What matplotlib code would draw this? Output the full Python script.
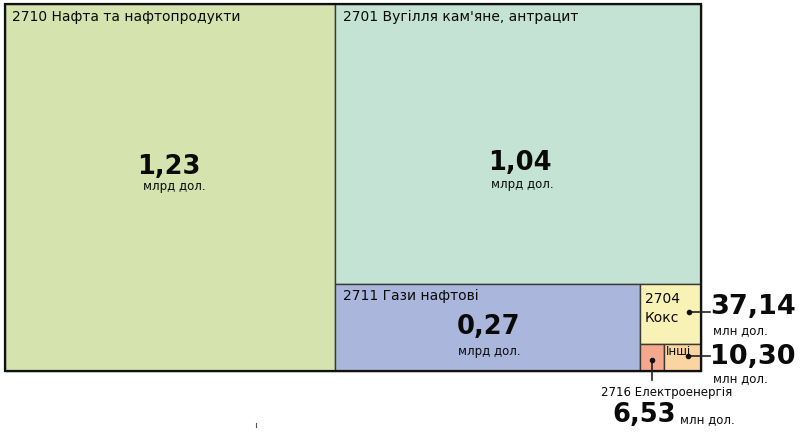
import matplotlib
matplotlib.use("Agg")
import matplotlib.pyplot as plt
from matplotlib.patches import Rectangle

# ---- data ----
codes = ["2710", "2701", "2711", "2704", "2716", ""]
names = ["Нафта та нафтопродукти", "Вугілля кам'яне, антрацит", "Гази нафтові",
         "Кокс", "Електроенергія", "Інші"]
values_mln = [1230.0, 1040.0, 270.0, 37.14, 6.53, 10.30]
value_text = ["1,23", "1,04", "0,27", "37,14", "6,53", "10,30"]
unit_text = ["млрд дол.", "млрд дол.", "млрд дол.", "млн дол.", "млн дол.", "млн дол."]

colors = ["#d5e4af", "#c4e3d4", "#abb6dc", "#f9f2b7", "#f5a88e", "#fbd5a1"]

# ---- layout (pixel coordinates of the figure) ----
W, H = 800, 435
fig = plt.figure(figsize=(W / 100, H / 100), dpi=100)
ax = fig.add_axes([0, 0, 1, 1])
ax.set_xlim(0, W)
ax.set_ylim(H, 0)
ax.axis("off")

X0, Y0, TW, TH = 5, 5, 696, 367


def slice_dice(vals, x, y, w, h):
    rects = []
    for i, v in enumerate(vals):
        rem = sum(vals[i:])
        if i == len(vals) - 1:
            rects.append((x, y, w, h))
        elif i % 2 == 0:
            cw = w * v / rem
            rects.append((x, y, cw, h))
            x += cw
            w -= cw
        else:
            ch = h * v / rem
            rects.append((x, y, w, ch))
            y += ch
            h -= ch
    return rects


rects = slice_dice(values_mln, X0, Y0, TW, TH)

for (x, y, w, h), c in zip(rects, colors):
    ax.add_patch(Rectangle((x, y), w, h, facecolor=c, edgecolor="#3a3a30", lw=1.0))
ax.add_patch(Rectangle((X0, Y0), TW, TH, facecolor="none", edgecolor="#111111", lw=1.6))

FONT = "DejaVu Sans"
BIG = 18.5
BIG2 = 19.5
TXT = "#0a0a0a"

# category titles inside boxes (first three)
for i in range(3):
    x, y, w, h = rects[i]
    ax.text(x + 7.5, y + 11.5, f"{codes[i]} {names[i]}", fontsize=10, family=FONT,
            ha="left", va="center", color=TXT)

# big values
big_num_xy = [(169, 167.5), (519.5, 163.5), (489, 327.5)]
big_unit_xy = [(174, 187), (522, 185), (489, 352)]
for i in range(3):
    ax.text(*big_num_xy[i], value_text[i], fontsize=BIG, fontweight="bold", family=FONT,
            ha="center", va="center", color=TXT)
    ax.text(*big_unit_xy[i], unit_text[i], fontsize=8.5, family=FONT,
            ha="center", va="center", color=TXT)

# 2704 Кокс
x, y, w, h = rects[3]
ax.text(x + 5, y + 14, codes[3], fontsize=10, family=FONT, ha="left", va="center", color=TXT)
ax.text(x + 5, y + 33, names[3], fontsize=10, family=FONT, ha="left", va="center", color=TXT)
ax.plot([689, 710], [313, 313], color="#222222", lw=1.2)
ax.plot([689], [313], "o", color="#111111", ms=3)
ax.text(710, 307.5, value_text[3], fontsize=BIG2, fontweight="bold", family=FONT,
        ha="left", va="center", color=TXT)
ax.text(740, 331, unit_text[3], fontsize=8.5, family=FONT, ha="center", va="center", color=TXT)

# Інші
x, y, w, h = rects[5]
ax.text(x + 2.5, y + 6.5, names[5], fontsize=8.5, family=FONT, ha="left", va="center", color=TXT)
ax.plot([688, 710], [357, 357], color="#222222", lw=1.2)
ax.plot([688], [357], "o", color="#111111", ms=3)
ax.text(710, 357.5, value_text[5], fontsize=BIG2, fontweight="bold", family=FONT,
        ha="left", va="center", color=TXT)
ax.text(740, 379, unit_text[5], fontsize=8.5, family=FONT, ha="center", va="center", color=TXT)

# 2716 Електроенергія
x, y, w, h = rects[4]
ax.plot([652, 652], [361, 381], color="#222222", lw=1.2)
ax.plot([652], [361], "o", color="#111111", ms=3)
ax.text(667, 393, f"{codes[4]} {names[4]}", fontsize=8.5, family=FONT,
        ha="center", va="center", color=TXT)
ax.text(612, 415, value_text[4], fontsize=BIG, fontweight="bold", family=FONT,
        ha="left", va="center", color=TXT)
ax.text(680, 420, unit_text[4], fontsize=8.5, family=FONT, ha="left", va="center", color=TXT)

# tiny stray mark at the bottom
ax.plot([256, 256], [424, 428], color="#555555", lw=0.8)

fig.savefig("out.png", dpi=100)
